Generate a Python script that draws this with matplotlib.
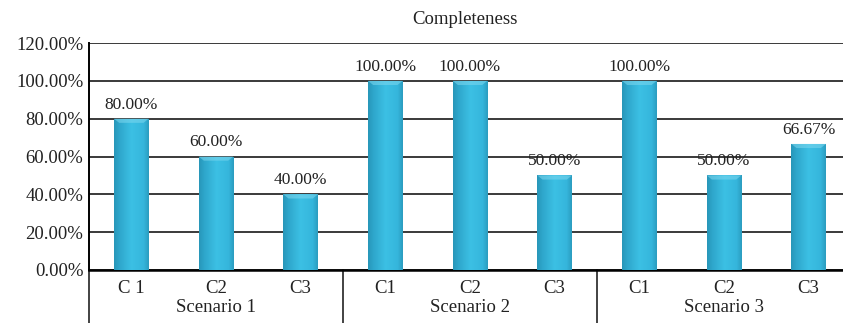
import numpy as np
import matplotlib
matplotlib.use('Agg')
import matplotlib.pyplot as plt
from matplotlib.colors import LinearSegmentedColormap
from matplotlib import transforms

plt.rcParams['font.family'] = ['Liberation Serif', 'DejaVu Serif']

scenarios = ['Scenario 1', 'Scenario 2', 'Scenario 3']
criteria = ['C 1', 'C2', 'C3', 'C1', 'C2', 'C3', 'C1', 'C2', 'C3']
completeness = [80.00, 60.00, 40.00, 100.00, 100.00, 50.00, 100.00, 50.00, 66.67]
yticks = [0, 20, 40, 60, 80, 100, 120]

fig = plt.figure(figsize=(8.43, 3.23), dpi=100)
# axes runs a little past the right edge of the figure
ax = fig.add_axes([89 / 843, 53 / 323, 762 / 843, 227 / 323])

x = np.arange(len(criteria))
bars = ax.bar(x, completeness, width=0.41, color='#31b4da', zorder=3)

# shaded fill for every bar: darker at the sides
cmap = LinearSegmentedColormap.from_list('bar', ['#1f7f9e', '#2ea6cb', '#3cc0e4', '#35b6dc', '#1e7896'])
gx = np.linspace(0, 1, 60)
gy = np.linspace(0, 1, 60)
GX, GY = np.meshgrid(gx, gy)
shade = 0.15 + 0.7 * GX
for b in bars:
    bx, by = b.get_x(), b.get_y()
    bw, bh = b.get_width(), b.get_height()
    img = ax.imshow(shade, cmap=cmap, vmin=0, vmax=1, aspect='auto', origin='lower',
                    extent=(bx, bx + bw, by, by + bh), zorder=3.5, interpolation='bilinear')
    img.set_clip_path(b)
    # small bevel at the top of the bar
    ax.fill([bx, bx + bw, bx + bw * 0.85, bx + bw * 0.15],
            [by + bh, by + bh, by + bh - 2.2, by + bh - 2.2],
            color='#7fd8ef', alpha=0.55, zorder=4, lw=0)

for xi, v in zip(x, completeness):
    ax.text(xi, v + 3.2, '%.2f%%' % v, ha='center', va='bottom', fontsize=12.5, color='#222222', zorder=5)

ax.set_xlim(-0.5, len(criteria) - 0.5)
ax.set_ylim(0, 120)
ax.set_yticks(yticks)
ax.set_yticklabels(['%.2f%%' % t for t in yticks], fontsize=13.5, color='#222222')
ax.tick_params(axis='y', length=0, pad=4)
ax.tick_params(axis='x', length=0, pad=7)
ax.set_xticks(x)
ax.set_xticklabels(criteria, fontsize=13.5, color='#222222')

ax.yaxis.grid(True, color='#3a3a3a', lw=1.4, zorder=1)
ax.set_axisbelow(True)
for s in ['top', 'right']:
    ax.spines[s].set_visible(False)
ax.spines['left'].set_linewidth(1.4)
ax.spines['bottom'].set_linewidth(1.8)

# group separators and scenario names under the axis
trans = transforms.blended_transform_factory(ax.transData, ax.transAxes)
for edge in [-0.5, 2.5, 5.5, 8.5]:
    ax.plot([edge, edge], [0, -0.24], transform=trans, color='#222222', lw=1.2, clip_on=False)
for i, name in enumerate(scenarios):
    ax.text(i * 3 + 1, -0.127, name, transform=trans, ha='center', va='top', fontsize=13.5, color='#222222')

fig.text(465 / 843, 1 - 19 / 323, 'Completeness', ha='center', va='center', fontsize=13.5, color='#222222')

plt.savefig('out.png', dpi=100)
